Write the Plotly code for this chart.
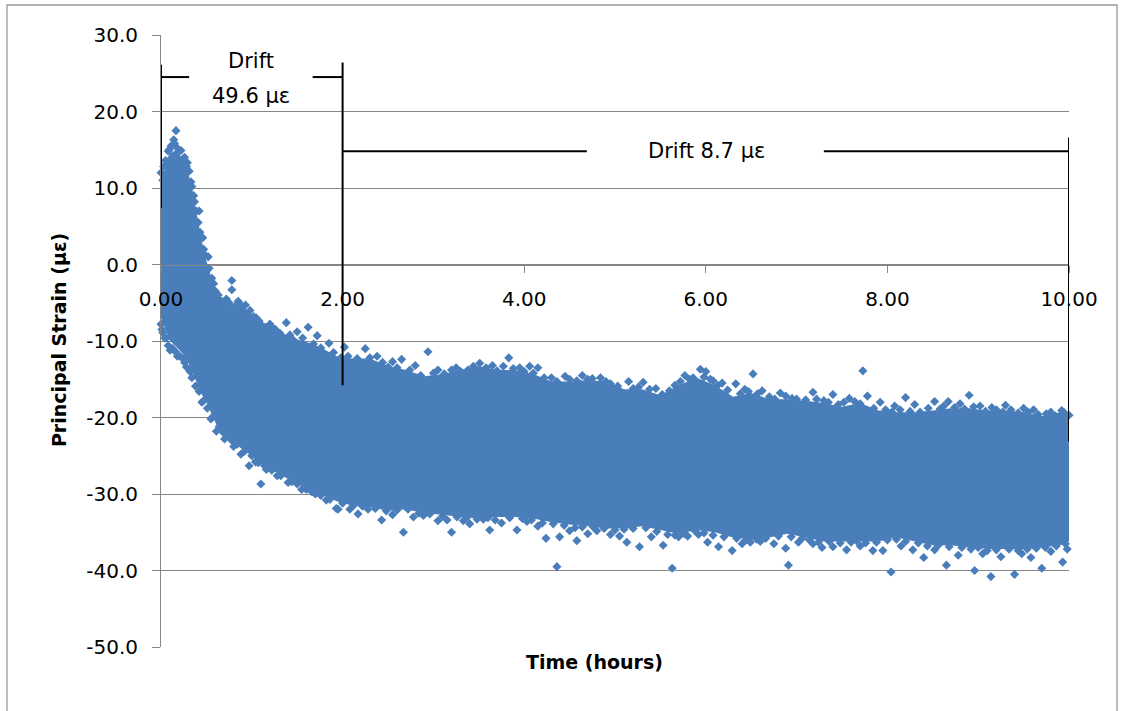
import plotly.graph_objects as go

# Dense core of the strain record: upper and lower edge of the point cloud (hours, microstrain)
band_time = [0.00, 0.05, 0.10, 0.17, 0.25, 0.30, 0.35, 0.40, 0.45, 0.50, 0.55, 0.62, 0.70, 0.80,
             0.90, 1.00, 1.10, 1.20, 1.35, 1.50, 1.65, 1.80, 1.95, 2.10, 2.30, 2.50, 2.70, 2.90,
             3.10, 3.30, 3.50, 3.70, 3.90, 4.10, 4.30, 4.50, 4.70, 4.90, 5.10, 5.30, 5.50, 5.70,
             5.90, 6.10, 6.30, 6.50, 6.70, 6.90, 7.10, 7.30, 7.50, 7.70, 7.90, 8.10, 8.30, 8.50,
             8.70, 8.90, 9.10, 9.30, 9.50, 9.70, 9.90, 10.00]
band_upper = [11.5, 12.5, 14.5, 15.0, 13.5, 12.0, 9.5, 6.0, 3.0, 0.5, -1.5, -3.8, -4.8, -5.3,
              -5.3, -6.8, -7.3, -8.3, -9.1, -9.8, -10.3, -11.1, -12.1, -12.3, -12.3, -13.3, -13.8, -14.6,
              -14.3, -13.8, -13.3, -13.8, -13.8, -14.3, -15.3, -15.3, -15.1, -15.3, -16.3, -16.3, -17.1, -15.8,
              -14.8, -15.8, -17.3, -16.8, -17.6, -17.6, -17.8, -18.1, -18.6, -18.1, -19.1, -19.3, -19.3, -19.1,
              -18.8, -18.8, -19.1, -19.1, -19.3, -19.8, -19.3, -19.6]
band_lower = [-7.0, -8.5, -10.0, -10.8, -11.8, -12.8, -14.2, -15.5, -17.0, -18.0, -19.2, -21.2, -22.2, -23.2,
              -24.2, -25.0, -26.0, -26.7, -27.7, -28.7, -29.5, -30.2, -31.0, -31.5, -31.7, -32.2, -32.0, -32.5,
              -32.7, -33.0, -33.2, -33.0, -33.0, -33.2, -33.7, -34.0, -34.2, -34.5, -34.5, -34.2, -34.7, -35.2,
              -34.7, -35.0, -35.7, -35.9, -35.7, -35.2, -35.7, -36.2, -36.2, -36.2, -36.2, -35.7, -36.2, -36.7,
              -36.7, -37.0, -37.2, -37.2, -37.2, -37.0, -36.7, -36.2]

# Readings along the ragged top of the core
top_fringe_time = [0.00, 0.03, 0.05, 0.08, 0.11, 0.15, 0.18, 0.22, 0.24, 0.28, 0.31, 0.34, 0.37, 0.39,
                   0.41, 0.43, 0.47, 0.49, 0.53, 0.56, 0.60, 0.63, 0.67, 0.75, 0.82, 0.88, 0.95, 1.02,
                   1.08, 1.15, 1.24, 1.31, 1.42, 1.46, 1.56, 1.68, 1.76, 1.90, 1.98, 2.06, 2.16, 2.30,
                   2.44, 2.50, 2.60, 2.74, 2.86, 3.00, 3.12, 3.20, 3.30, 3.44, 3.58, 3.70, 3.77, 3.88,
                   4.00, 4.10, 4.22, 4.36, 4.50, 4.58, 4.70, 4.84, 4.90, 5.03, 5.20, 5.26, 5.38, 5.52,
                   5.66, 5.72, 5.82, 5.98, 6.05, 6.13, 6.24, 6.38, 6.47, 6.57, 6.70, 6.76, 6.88, 7.00,
                   7.10, 7.22, 7.35, 7.46, 7.52, 7.64, 7.70, 7.85, 7.98, 8.05, 8.14, 8.25, 8.36, 8.45,
                   8.58, 8.62, 8.74, 8.85, 8.95, 9.08, 9.20, 9.27, 9.36, 9.44, 9.55, 9.66, 9.75, 9.85,
                   9.95]
top_fringe_strain = [12.0, 12.8, 13.6, 14.8, 15.5, 15.8, 15.2, 14.9, 13.8, 12.8, 12.2, 10.2, 8.2, 7.0,
                     5.5, 4.2, 2.0, 1.2, -0.5, -1.8, -3.5, -4.0, -4.8, -5.0, -5.4, -5.3, -6.5, -6.8,
                     -7.4, -8.2, -8.4, -9.0, -9.2, -9.9, -9.6, -10.4, -10.9, -11.5, -12.2, -12.0, -12.3, -12.2,
                     -12.8, -13.4, -13.5, -13.8, -14.5, -14.2, -14.3, -13.8, -14.0, -13.3, -13.5, -13.9, -13.3, -13.6,
                     -14.0, -14.2, -14.8, -15.3, -15.0, -15.2, -15.0, -14.8, -15.3, -15.9, -16.2, -16.0, -16.3, -17.0,
                     -15.8, -15.3, -15.0, -14.7, -15.0, -15.8, -16.4, -16.9, -16.6, -16.9, -17.3, -17.6, -17.2, -17.6,
                     -17.7, -17.6, -18.0, -18.3, -18.0, -17.9, -18.2, -18.8, -19.0, -19.3, -19.0, -19.2, -19.3, -18.8,
                     -18.9, -18.5, -18.7, -18.9, -18.6, -19.2, -19.0, -19.3, -19.0, -19.4, -19.3, -19.6, -19.5, -19.8,
                     -19.4]

# Readings along the ragged bottom of the core
bottom_fringe_time = [0.00, 0.02, 0.06, 0.08, 0.13, 0.16, 0.21, 0.24, 0.28, 0.34, 0.38, 0.42, 0.47, 0.51,
                      0.57, 0.64, 0.68, 0.74, 0.78, 0.84, 0.92, 1.00, 1.07, 1.14, 1.22, 1.32, 1.44, 1.50,
                      1.60, 1.66, 1.76, 1.86, 2.00, 2.12, 2.22, 2.36, 2.48, 2.60, 2.72, 2.84, 2.96, 3.10,
                      3.26, 3.36, 3.48, 3.60, 3.68, 3.84, 3.98, 4.08, 4.20, 4.32, 4.44, 4.56, 4.64, 4.76,
                      4.88, 5.00, 5.10, 5.20, 5.34, 5.46, 5.58, 5.66, 5.76, 5.88, 5.98, 6.08, 6.20, 6.34,
                      6.44, 6.56, 6.66, 6.80, 6.94, 7.06, 7.14, 7.24, 7.36, 7.48, 7.60, 7.66, 7.76, 7.88,
                      8.00, 8.10, 8.20, 8.34, 8.44, 8.56, 8.68, 8.82, 8.92, 9.00, 9.10, 9.20, 9.34, 9.44,
                      9.54, 9.64, 9.74, 9.86, 9.96]
bottom_fringe_strain = [-7.8, -8.9, -9.6, -10.6, -11.0, -11.4, -12.0, -12.3, -13.4, -14.8, -15.9, -16.6, -17.8, -18.8,
                        -19.9, -21.2, -21.9, -22.4, -23.0, -23.5, -24.4, -25.0, -25.9, -26.3, -26.9, -27.6, -28.4, -28.7,
                        -29.4, -29.7, -30.2, -30.7, -31.2, -31.5, -31.6, -31.9, -32.2, -32.1, -32.0, -32.5, -32.6, -32.9,
                        -33.0, -33.2, -33.3, -33.1, -33.4, -33.1, -33.2, -33.4, -33.8, -33.9, -34.1, -34.4, -34.3, -34.3,
                        -34.5, -34.7, -34.6, -34.5, -34.4, -34.9, -35.3, -35.4, -35.2, -34.8, -35.1, -35.4, -35.6, -35.8,
                        -36.0, -35.9, -35.8, -35.5, -35.6, -35.8, -36.0, -36.3, -36.2, -36.4, -36.3, -36.1, -36.4, -36.3,
                        -36.0, -35.9, -36.2, -36.4, -36.8, -36.7, -36.9, -37.0, -37.2, -37.0, -37.4, -37.3, -37.2, -37.4,
                        -37.2, -37.1, -37.0, -36.8, -36.5]

# Isolated readings scattered above the core
upper_time = [0.02, 0.06, 0.09, 0.12, 0.165, 0.14, 0.20, 0.26, 0.29, 0.33, 0.36, 0.42, 0.46, 0.52,
              0.58, 0.78, 0.78, 0.72, 0.85, 0.93, 0.98, 1.05, 1.20, 1.26, 1.38, 1.50, 1.62, 1.72,
              1.85, 2.02, 2.25, 2.38, 2.55, 2.65, 2.80, 2.94, 3.05, 3.25, 3.38, 3.51, 3.65, 3.83,
              3.95, 4.06, 4.15, 4.30, 4.45, 4.64, 4.75, 4.95, 5.15, 5.31, 5.45, 5.60, 5.77, 5.86,
              5.94, 6.00, 6.08, 6.18, 6.33, 6.43, 6.52, 6.62, 6.82, 6.95, 7.18, 7.30, 7.40, 7.58,
              7.73, 7.78, 7.92, 8.08, 8.20, 8.30, 8.52, 8.67, 8.80, 8.90, 9.02, 9.15, 9.30, 9.50,
              9.61, 9.80, 9.92, 10.00]
upper_strain = [11.0, 13.5, 15.0, 14.0, 17.5, 16.3, 14.8, 14.0, 13.3, 10.8, 9.0, 7.0, 3.5, 1.0,
                -2.5, -2.1, -3.3, -4.5, -4.8, -5.3, -6.0, -7.0, -7.8, -8.5, -7.6, -8.8, -8.2, -9.3,
                -10.3, -10.8, -11.0, -12.0, -12.7, -12.4, -13.2, -11.4, -13.8, -13.5, -13.8, -12.9, -13.2, -12.2,
                -13.5, -13.3, -13.5, -14.8, -14.6, -14.5, -14.9, -15.6, -15.3, -15.4, -16.2, -16.5, -14.5, -14.8,
                -13.7, -14.0, -15.2, -15.5, -15.6, -16.3, -14.3, -16.5, -16.8, -17.5, -16.7, -17.8, -17.0, -17.5,
                -13.9, -17.2, -18.0, -18.5, -17.4, -18.3, -17.9, -17.9, -18.2, -17.1, -18.5, -18.7, -18.4, -18.8,
                -19.0, -19.3, -19.1, -19.7]

# Isolated readings scattered below the core
lower_time = [0.01, 0.04, 0.10, 0.18, 0.26, 0.32, 0.45, 0.55, 0.61, 0.70, 0.80, 0.88, 0.97, 1.04,
              1.10, 1.16, 1.28, 1.40, 1.55, 1.70, 1.82, 1.93, 1.95, 2.08, 2.17, 2.28, 2.43, 2.55,
              2.67, 2.78, 2.89, 3.05, 3.15, 3.20, 3.33, 3.40, 3.55, 3.62, 3.75, 3.92, 4.03, 4.15,
              4.24, 4.36, 4.39, 4.50, 4.58, 4.70, 4.80, 4.95, 5.05, 5.13, 5.27, 5.40, 5.53, 5.63,
              5.70, 5.80, 5.92, 6.02, 6.14, 6.29, 6.40, 6.49, 6.60, 6.75, 6.88, 6.91, 7.02, 7.18,
              7.28, 7.40, 7.55, 7.70, 7.84, 7.95, 8.04, 8.15, 8.28, 8.40, 8.52, 8.65, 8.78, 8.96,
              9.05, 9.14, 9.25, 9.40, 9.48, 9.58, 9.70, 9.80, 9.93, 9.98]
lower_strain = [-8.5, -9.6, -11.2, -12.0, -12.8, -14.0, -18.0, -20.2, -21.8, -22.8, -23.8, -24.8, -26.3, -25.8,
                -28.7, -26.8, -27.6, -28.5, -29.4, -30.0, -30.8, -31.9, -32.0, -32.0, -32.6, -32.0, -33.4, -32.7,
                -35.0, -33.0, -32.8, -33.5, -33.4, -35.0, -33.5, -33.9, -33.3, -34.7, -33.8, -34.7, -33.6, -34.2,
                -35.8, -39.5, -35.6, -34.8, -36.1, -35.2, -34.8, -35.3, -35.5, -36.3, -36.9, -35.6, -36.7, -39.7,
                -35.6, -35.5, -35.3, -36.3, -36.9, -37.4, -36.5, -36.3, -36.2, -36.5, -37.1, -39.3, -36.3, -36.5,
                -37.0, -36.9, -37.3, -36.8, -37.4, -37.4, -40.2, -36.8, -37.3, -38.3, -37.3, -39.3, -38.0, -40.0,
                -37.8, -40.8, -38.2, -40.5, -37.8, -38.3, -39.7, -37.5, -38.9, -37.2]

y_tick_values = [30, 20, 10, 0, -10, -20, -30, -40, -50]
y_tick_labels = ["30.0", "20.0", "10.0", "0.0", "-10.0", "-20.0", "-30.0", "-40.0", "-50.0"]
x_tick_values = [0, 2, 4, 6, 8, 10]
x_tick_labels = ["0.00", "2.00", "4.00", "6.00", "8.00", "10.00"]

early_drift_label = "49.6 με"
late_drift_label = "Drift 8.7 με"

POINT_BLUE = "#4A7EBB"
GRID_GREY = "#868686"
FONT = "DejaVu Sans"

fig = go.Figure()

# core of the cloud as a filled outline
fig.add_trace(go.Scatter(
    x=band_time + band_time[::-1],
    y=band_upper + band_lower[::-1],
    mode="lines", fill="toself", fillcolor=POINT_BLUE,
    line=dict(width=0, color=POINT_BLUE), hoverinfo="skip",
))

for xs, ys in ((top_fringe_time, top_fringe_strain), (bottom_fringe_time, bottom_fringe_strain),
               (upper_time, upper_strain), (lower_time, lower_strain)):
    fig.add_trace(go.Scatter(
        x=xs, y=ys, mode="markers", cliponaxis=False,
        marker=dict(symbol="diamond", size=7, color=POINT_BLUE, line=dict(width=0)),
    ))

# drift brackets
bracket = dict(color="black", width=2)
fig.add_shape(type="line", x0=0, x1=0, y0=26.1, y1=7.4, line=bracket)
fig.add_shape(type="line", x0=0, x1=0.31, y0=24.5, y1=24.5, line=bracket)
fig.add_shape(type="line", x0=1.67, x1=2, y0=24.5, y1=24.5, line=bracket)
fig.add_shape(type="line", x0=2, x1=2, y0=26.4, y1=-15.8, line=bracket)
fig.add_shape(type="line", x0=2, x1=4.69, y0=14.8, y1=14.8, line=bracket)
fig.add_shape(type="line", x0=7.30, x1=10, y0=14.8, y1=14.8, line=bracket)
fig.add_shape(type="line", x0=10, x1=10, y0=16.6, y1=-23.1, line=bracket)

# chart frame
fig.add_shape(type="rect", xref="paper", yref="paper",
              x0=-0.1696, x1=1.0529, y0=-0.12, y1=1.049,
              line=dict(color="#9A9A9A", width=1.3), layer="below")

txt = dict(family=FONT, size=21, color="black")
fig.add_annotation(x=0.99, y=26.6, text="Drift", showarrow=False, font=txt)
fig.add_annotation(x=0.99, y=22.0, text=early_drift_label, showarrow=False, font=txt)
fig.add_annotation(x=6.01, y=14.9, text=late_drift_label, showarrow=False, font=txt)

title_font = dict(family=FONT, size=19, color="black")
fig.add_annotation(xref="paper", yref="paper", x=0.4769, y=-0.0245,
                   text="<b>Time (hours)</b>", showarrow=False, font=title_font,
                   xanchor="center", yanchor="middle")
fig.add_annotation(xref="paper", yref="paper", x=-0.1123, y=0.5016,
                   text="<b>Principal Strain (με)</b>", showarrow=False, font=title_font,
                   textangle=-90, xanchor="center", yanchor="middle")

fig.update_layout(
    width=1123, height=711, autosize=False,
    margin=dict(l=161, r=54, t=35, b=64),
    plot_bgcolor="white", paper_bgcolor="white",
    showlegend=False,
    font=dict(family=FONT, size=20, color="black"),
    xaxis=dict(
        range=[0, 10], tickmode="array", tickvals=x_tick_values, ticktext=x_tick_labels,
        showgrid=False, zeroline=False, showline=True, linecolor=GRID_GREY, linewidth=1,
        ticks="outside", ticklen=7, tickcolor=GRID_GREY, tickwidth=1,
        anchor="free", position=0.625, ticklabelstandoff=9,
    ),
    yaxis=dict(
        range=[-50, 30], tickmode="array", tickvals=y_tick_values, ticktext=y_tick_labels,
        showgrid=True, gridcolor=GRID_GREY, gridwidth=1, zeroline=False,
        showline=True, linecolor=GRID_GREY, linewidth=1,
        ticks="outside", ticklen=8, tickcolor=GRID_GREY, tickwidth=1,
        ticklabelstandoff=10,
    ),
)

fig.write_html("out.html")
